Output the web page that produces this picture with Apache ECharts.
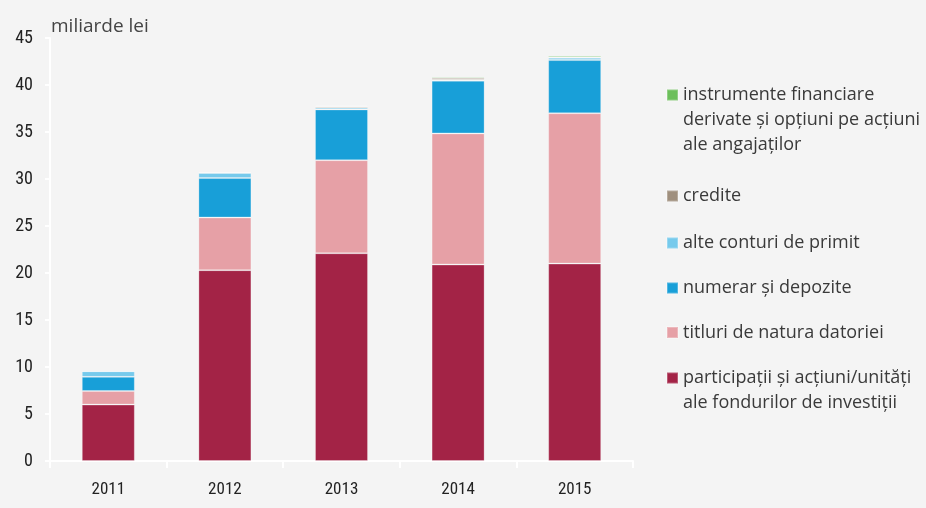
<!DOCTYPE html>
<html>
<head>
<meta charset="utf-8">
<script src="https://cdn.jsdelivr.net/npm/echarts@6/dist/echarts.min.js"></script>
<style>
  html, body { margin: 0; padding: 0; background: #f4f4f4; }
  #chart { width: 926px; height: 508px; }
</style>
</head>
<body>
<div id="chart"></div>
<script>
var years = ['2011', '2012', '2013', '2014', '2015'];
var participatii = [6.0, 20.3, 22.1, 20.9, 21.0];
var titluri = [1.45, 5.6, 9.9, 13.95, 16.0];
var numerar = [1.5, 4.2, 5.4, 5.6, 5.65];
var alteConturi = [0.6, 0.55, 0.18, 0.1, 0.25];
var credite = [0, 0.02, 0.14, 0.2, 0.03];
var instrumente = [0, 0.05, 0.07, 0.13, 0.15];

var names = [
  'instrumente financiare\nderivate și opțiuni pe acțiuni\nale angajaților',
  'credite',
  'alte conturi de primit',
  'numerar și depozite',
  'titluri de natura datoriei',
  'participații și acțiuni/unități\nale fondurilor de investiții'
];
var colors = ['#6cbf5b', '#9f8f7d', '#76caec', '#189fd8', '#e6a0a6', '#a32346'];

var tickFont = "'Liberation Sans Narrow', 'Roboto Condensed', 'Open Sans', sans-serif";
var textFont = "'Open Sans', 'Noto Sans', sans-serif";

// legend: one block per item; blank lines in front keep the square on the first text line
var legendIcon = [95, 196, 243, 288, 332.5, 378];
var legends = names.map(function (n, i) {
  var lines = n.split('\n').length;
  var h = (2 * lines - 1) * 25;
  return {
    data: [n],
    formatter: function (name) {
      return new Array(lines).join('\n') + name;
    },
    left: 666,
    top: legendIcon[i] - h / 2,
    padding: 0,
    itemWidth: 11,
    itemHeight: 11,
    itemGap: 0,
    icon: 'rect',
    selectedMode: false,
    textStyle: {
      fontFamily: textFont,
      fontSize: 18,
      color: '#3a3a3a',
      lineHeight: 25
    }
  };
});

var seriesData = [participatii, titluri, numerar, alteConturi, credite, instrumente];
var series = [];
for (var i = 0; i < 6; i++) {
  var idx = 5 - i;
  series.push({
    name: names[idx],
    type: 'bar',
    stack: 'total',
    barWidth: 53,
    data: seriesData[i],
    itemStyle: {
      color: colors[idx],
      borderColor: 'rgba(255,255,255,0.25)',
      borderWidth: 1
    }
  });
}

var myChart = echarts.init(document.getElementById('chart'));
var option = {
  backgroundColor: '#f4f4f4',
  animation: false,
  title: {
    text: 'miliarde lei',
    left: 46,
    top: 12,
    textStyle: { fontFamily: textFont, fontSize: 19, fontWeight: 'normal', color: '#444' }
  },
  legend: legends,
  grid: { left: 50, top: 38, width: 583, bottom: 47, containLabel: false },
  xAxis: {
    type: 'category',
    data: years,
    axisLine: { lineStyle: { color: '#ffffff', width: 2 } },
    axisTick: { show: true, length: 7, lineStyle: { color: '#ffffff', width: 2 } },
    axisLabel: { fontFamily: tickFont, fontSize: 17, color: '#222', margin: 20 }
  },
  yAxis: {
    type: 'value',
    min: 0,
    max: 45,
    interval: 5,
    axisLine: { show: true, lineStyle: { color: '#ffffff', width: 2 } },
    axisTick: { show: true, length: 5, lineStyle: { color: '#ffffff', width: 2 } },
    splitLine: { show: false },
    axisLabel: { fontFamily: tickFont, fontSize: 18, color: '#222', margin: 17 }
  },
  series: series
};
myChart.setOption(option);
</script>
</body>
</html>
